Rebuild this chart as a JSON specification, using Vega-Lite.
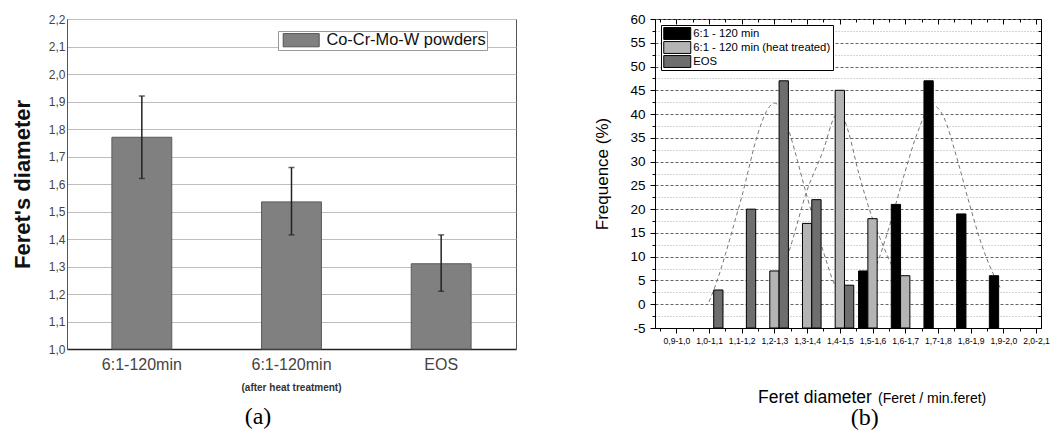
{
  "$schema": "https://vega.github.io/schema/vega-lite/v6.json",
  "background": "white",
  "padding": {"left": 10, "top": 11, "right": 0, "bottom": 0},
  "spacing": 76,
  "resolve": {"scale": {"fill": "independent"}, "legend": {"fill": "independent"}},
  "config": {
    "font": "Liberation Sans",
    "axis": {"labelFont": "Liberation Sans", "titleFont": "Liberation Sans"},
    "legend": {"labelFont": "Liberation Sans"}
  },
  "datasets": {
    "powders": [
      {"sample": "6:1-120min", "note": "", "mean": 1.77, "lo": 1.62, "hi": 1.92},
      {"sample": "6:1-120min (after heat treatment)", "note": "(after heat treatment)", "mean": 1.535, "lo": 1.415, "hi": 1.66},
      {"sample": "EOS", "note": "", "mean": 1.31, "lo": 1.21, "hi": 1.415}
    ],
    "freq": [
      {"k": 6, "bin": "1,5-1,6", "series": "6:1 - 120 min", "freq": 7},
      {"k": 7, "bin": "1,6-1,7", "series": "6:1 - 120 min", "freq": 21},
      {"k": 8, "bin": "1,7-1,8", "series": "6:1 - 120 min", "freq": 47},
      {"k": 9, "bin": "1,8-1,9", "series": "6:1 - 120 min", "freq": 19},
      {"k": 10, "bin": "1,9-2,0", "series": "6:1 - 120 min", "freq": 6},
      {"k": 3, "bin": "1,2-1,3", "series": "6:1 - 120 min (heat treated)", "freq": 7},
      {"k": 4, "bin": "1,3-1,4", "series": "6:1 - 120 min (heat treated)", "freq": 17},
      {"k": 5, "bin": "1,4-1,5", "series": "6:1 - 120 min (heat treated)", "freq": 45},
      {"k": 6, "bin": "1,5-1,6", "series": "6:1 - 120 min (heat treated)", "freq": 18},
      {"k": 7, "bin": "1,6-1,7", "series": "6:1 - 120 min (heat treated)", "freq": 6},
      {"k": 1, "bin": "1,0-1,1", "series": "EOS", "freq": 3},
      {"k": 2, "bin": "1,1-1,2", "series": "EOS", "freq": 20},
      {"k": 3, "bin": "1,2-1,3", "series": "EOS", "freq": 47},
      {"k": 4, "bin": "1,3-1,4", "series": "EOS", "freq": 22},
      {"k": 5, "bin": "1,4-1,5", "series": "EOS", "freq": 4}
    ],
    "fits": [
      {"fit": "EOS", "k": 1.0, "v": 0.5},
      {"fit": "EOS", "k": 1.25, "v": 5},
      {"fit": "EOS", "k": 1.5, "v": 10.5},
      {"fit": "EOS", "k": 1.75, "v": 16.5},
      {"fit": "EOS", "k": 2.0, "v": 22.6},
      {"fit": "EOS", "k": 2.5, "v": 36},
      {"fit": "EOS", "k": 2.75, "v": 40.5},
      {"fit": "EOS", "k": 3.0, "v": 42.3},
      {"fit": "EOS", "k": 3.25, "v": 40.5},
      {"fit": "EOS", "k": 3.5, "v": 35.2},
      {"fit": "EOS", "k": 4.0, "v": 22.6},
      {"fit": "EOS", "k": 4.5, "v": 11},
      {"fit": "EOS", "k": 4.85, "v": 4},
      {"fit": "EOS", "k": 5.05, "v": 2},
      {"fit": "heat", "k": 3.0, "v": 3},
      {"fit": "heat", "k": 3.44, "v": 11},
      {"fit": "heat", "k": 4.0, "v": 24},
      {"fit": "heat", "k": 4.5, "v": 32.5},
      {"fit": "heat", "k": 4.84, "v": 39.5},
      {"fit": "heat", "k": 5.0, "v": 40.5},
      {"fit": "heat", "k": 5.23, "v": 37},
      {"fit": "heat", "k": 5.58, "v": 27.5},
      {"fit": "heat", "k": 5.98, "v": 18.4},
      {"fit": "heat", "k": 6.38, "v": 11.4},
      {"fit": "heat", "k": 6.87, "v": 4.4},
      {"fit": "heat", "k": 7.0, "v": 3},
      {"fit": "black", "k": 5.75, "v": 3},
      {"fit": "black", "k": 6.18, "v": 9.3},
      {"fit": "black", "k": 6.48, "v": 15.6},
      {"fit": "black", "k": 6.98, "v": 27.5},
      {"fit": "black", "k": 7.37, "v": 36},
      {"fit": "black", "k": 7.82, "v": 41.9},
      {"fit": "black", "k": 8.17, "v": 39.5},
      {"fit": "black", "k": 8.57, "v": 31},
      {"fit": "black", "k": 8.96, "v": 21.2},
      {"fit": "black", "k": 9.36, "v": 12.1},
      {"fit": "black", "k": 9.81, "v": 4.7},
      {"fit": "black", "k": 9.9, "v": 3.5}
    ]
  },
  "hconcat": [
    {
      "width": 449,
      "height": 330,
      "view": {"stroke": "#555555", "strokeWidth": 1},
      "data": {"name": "powders"},
      "resolve": {"axis": {"y": "independent"}},
      "encoding": {
        "x": {
          "field": "sample", "type": "nominal", "sort": null,
          "scale": {"paddingInner": 0.6, "paddingOuter": 0.3},
          "axis": {
            "title": null, "labelAngle": 0, "ticks": false, "labelPadding": 7,
            "labelFontSize": 16, "labelColor": "#444444",
            "labelExpr": "split(datum.label, ' (')[0]",
            "domainColor": "#222222", "domainWidth": 1.5
          }
        }
      },
      "layer": [
        {
          "mark": {"type": "bar", "stroke": "#5a5a5a", "strokeWidth": 1},
          "encoding": {
            "y": {
              "field": "mean", "type": "quantitative",
              "scale": {"domain": [1, 2.2], "nice": false, "zero": false},
              "axis": {
                "orient": "left",
                "title": "Feret's diameter", "titleFontSize": 22, "titleFontWeight": "bold",
                "titleColor": "#111111", "titlePadding": 14,
                "tickCount": 24,
                "values": [1, 1.05, 1.1, 1.15, 1.2, 1.25, 1.3, 1.35, 1.4, 1.45, 1.5, 1.55, 1.6, 1.65, 1.7, 1.75, 1.8, 1.85, 1.9, 1.95, 2.0, 2.05, 2.1, 2.15, 2.2],
                "labelExpr": "(round(datum.value*100) % 10 === 0) ? replace(format(datum.value, '.1f'), '.', ',') : ''",
                "labelFontSize": 12, "labelColor": "#444444", "labelPadding": 2,
                "ticks": false, "labelOverlap": false, "labelFlush": false,
                "grid": true, "gridColor": "#bdbdbd", "gridWidth": 1,
                "domainColor": "#555555"
              }
            },
            "y2": {"datum": 1},
            "fill": {
              "datum": "Co-Cr-Mo-W powders", "type": "nominal",
              "scale": {"range": ["#808080"]},
              "legend": {
                "orient": "none", "legendX": 211, "legendY": 12, "title": null,
                "strokeColor": "#999999", "fillColor": "white", "padding": 1,
                "symbolType": "M-3,-1.1H3V1.1H-3Z", "symbolSize": 144, "symbolOffset": 14,
                "symbolStrokeColor": "#555555", "symbolStrokeWidth": 1,
                "labelFontSize": 16.4, "labelColor": "#111111", "labelOffset": 17, "labelLimit": 300
              }
            }
          }
        },
        {
          "mark": {"type": "rule", "color": "#222222", "strokeWidth": 1.5},
          "encoding": {
            "y": {"field": "lo", "type": "quantitative", "axis": null},
            "y2": {"field": "hi"}
          }
        },
        {
          "mark": {"type": "tick", "color": "#222222", "thickness": 1.5, "size": 6, "orient": "horizontal"},
          "encoding": {"y": {"field": "lo", "type": "quantitative", "axis": null}}
        },
        {
          "mark": {"type": "tick", "color": "#222222", "thickness": 1.5, "size": 6, "orient": "horizontal"},
          "encoding": {"y": {"field": "hi", "type": "quantitative", "axis": null}}
        },
        {
          "mark": {"type": "text", "fontWeight": "bold", "fontSize": 10, "baseline": "alphabetic", "dy": 42, "color": "#333333"},
          "encoding": {
            "y": {"datum": 1, "type": "quantitative", "axis": null},
            "text": {"field": "note"}
          }
        },
        {
          "data": {"values": [{}]},
          "mark": {"type": "text", "text": "(a)", "font": "Liberation Serif", "fontSize": 24, "baseline": "alphabetic", "dy": 75, "dx": -33.5, "color": "black"},
          "encoding": {
            "x": {"datum": "6:1-120min (after heat treatment)"},
            "y": {"datum": 1, "type": "quantitative", "axis": null}
          }
        }
      ]
    },
    {
      "width": 386,
      "height": 309,
      "view": {"stroke": "black", "strokeWidth": 1},
      "resolve": {"axis": {"x": "independent", "y": "independent"}},
      "layer": [
        {
          "data": {"name": "fits"},
          "mark": {"type": "line", "color": "#777777", "strokeWidth": 1, "strokeDash": [4, 3], "interpolate": "monotone"},
          "encoding": {
            "x": {
              "field": "k", "type": "quantitative",
              "scale": {"domain": [-0.5, 11], "nice": false, "zero": false},
              "axis": {
                "orient": "bottom", "title": null,
                "values": [-0.5, 0, 0.5, 1, 1.5, 2, 2.5, 3, 3.5, 4, 4.5, 5, 5.5, 6, 6.5, 7, 7.5, 8, 8.5, 9, 9.5, 10, 10.5, 11],
                "labelExpr": "datum.value % 1 === 0 ? ['0,9-1,0','1,0-1,1','1,1-1,2','1,2-1,3','1,3-1,4','1,4-1,5','1,5-1,6','1,6-1,7','1,7-1,8','1,8-1,9','1,9-2,0','2,0-2,1'][datum.value] : ''",
                "labelFontSize": 8.6, "labelColor": "black", "labelPadding": 3,
                "labelOverlap": false, "labelFlush": false, "labelBound": false,
                "tickSize": {"condition": {"test": "datum.value % 1 === 0", "value": 5}, "value": 3},
                "tickColor": "black", "domainColor": "black", "grid": false
              }
            },
            "y": {
              "field": "v", "type": "quantitative",
              "scale": {"domain": [-5, 60], "nice": false, "zero": false},
              "axis": {
                "orient": "left", "title": "Frequence (%)", "titleFontSize": 17, "titleFontWeight": "normal",
                "titleColor": "black", "titlePadding": 18,
                "values": [-5, -2.5, 0, 2.5, 5, 7.5, 10, 12.5, 15, 17.5, 20, 22.5, 25, 27.5, 30, 32.5, 35, 37.5, 40, 42.5, 45, 47.5, 50, 52.5, 55, 57.5, 60],
                "labelExpr": "datum.value % 5 === 0 ? '' + datum.value : ''",
                "labelFontSize": 13.5, "labelColor": "black", "labelPadding": 5,
                "labelOverlap": false, "labelFlush": false,
                "tickSize": {"condition": {"test": "datum.value % 5 === 0", "value": 5}, "value": 3},
                "tickColor": "black", "domainColor": "black",
                "grid": true,
                "gridColor": {"condition": {"test": "datum.value % 5 === 0", "value": "#666666"}, "value": "#aaaaaa"},
                "gridDash": {"condition": {"test": "datum.value % 5 === 0", "value": [3, 2]}, "value": [1, 2]},
                "gridWidth": 1
              }
            },
            "detail": {"field": "fit", "type": "nominal"}
          }
        },
        {
          "data": {"name": "freq"},
          "transform": [{"filter": "datum.series === '6:1 - 120 min'"}],
          "mark": {"type": "bar", "width": 9.3, "xOffset": -9.3, "stroke": "black", "strokeWidth": 1},
          "encoding": {
            "x": {
              "field": "k", "type": "quantitative",
              "scale": {"domain": [-0.5, 11], "nice": false, "zero": false},
              "axis": {
                "orient": "top", "title": null, "labels": false, "domain": false, "grid": false,
                "values": [-0.5, 0, 0.5, 1, 1.5, 2, 2.5, 3, 3.5, 4, 4.5, 5, 5.5, 6, 6.5, 7, 7.5, 8, 8.5, 9, 9.5, 10, 10.5, 11],
                "tickSize": {"condition": {"test": "datum.value % 1 === 0", "value": -5}, "value": -3},
                "tickColor": "black"
              }
            },
            "y": {
              "field": "freq", "type": "quantitative",
              "scale": {"domain": [-5, 60], "nice": false, "zero": false},
              "axis": {
                "orient": "right", "title": null, "labels": false, "domain": false, "grid": false,
                "values": [-5, -2.5, 0, 2.5, 5, 7.5, 10, 12.5, 15, 17.5, 20, 22.5, 25, 27.5, 30, 32.5, 35, 37.5, 40, 42.5, 45, 47.5, 50, 52.5, 55, 57.5, 60],
                "tickSize": {"condition": {"test": "datum.value % 5 === 0", "value": -5}, "value": -3},
                "tickColor": "black"
              }
            },
            "y2": {"datum": -5},
            "fill": {
              "field": "series", "type": "nominal",
              "scale": {"domain": ["6:1 - 120 min", "6:1 - 120 min (heat treated)", "EOS"], "range": ["#000000", "#b4b4b4", "#6e6e6e"]},
              "legend": {
                "orient": "none", "legendX": 6, "legendY": 6, "title": null,
                "strokeColor": "black", "fillColor": "white", "padding": 2, "rowPadding": 1,
                "clipHeight": 13,
                "symbolType": "M-2,-0.88H2V0.88H-2Z", "symbolSize": 182.25, "symbolOffset": 6.75,
                "symbolStrokeColor": "black", "symbolStrokeWidth": 1,
                "labelFontSize": 11.3, "labelColor": "black", "labelOffset": 8.5, "labelLimit": 300
              }
            }
          }
        },
        {
          "data": {"name": "freq"},
          "transform": [{"filter": "datum.series === '6:1 - 120 min (heat treated)'"}],
          "mark": {"type": "bar", "width": 9.3, "xOffset": 0, "stroke": "black", "strokeWidth": 1},
          "encoding": {
            "x": {"field": "k", "type": "quantitative", "axis": null},
            "y": {"field": "freq", "type": "quantitative", "axis": null},
            "y2": {"datum": -5},
            "fill": {"field": "series", "type": "nominal"}
          }
        },
        {
          "data": {"name": "freq"},
          "transform": [{"filter": "datum.series === 'EOS'"}],
          "mark": {"type": "bar", "width": 9.3, "xOffset": 9.3, "stroke": "black", "strokeWidth": 1},
          "encoding": {
            "x": {"field": "k", "type": "quantitative", "axis": null},
            "y": {"field": "freq", "type": "quantitative", "axis": null},
            "y2": {"datum": -5},
            "fill": {"field": "series", "type": "nominal"}
          }
        },
        {
          "data": {"values": [{}]},
          "mark": {"type": "text", "text": "Feret diameter", "fontSize": 17.5, "align": "left", "baseline": "alphabetic", "dy": 75, "color": "black"},
          "encoding": {
            "x": {"datum": 2.5, "type": "quantitative", "axis": null},
            "y": {"datum": -5, "type": "quantitative", "axis": null}
          }
        },
        {
          "data": {"values": [{}]},
          "mark": {"type": "text", "text": "(Feret / min.feret)", "fontSize": 14, "align": "left", "baseline": "alphabetic", "dy": 75, "dx": 120, "color": "black"},
          "encoding": {
            "x": {"datum": 2.5, "type": "quantitative", "axis": null},
            "y": {"datum": -5, "type": "quantitative", "axis": null}
          }
        },
        {
          "data": {"values": [{}]},
          "mark": {"type": "text", "text": "(b)", "font": "Liberation Serif", "fontSize": 24, "align": "center", "baseline": "alphabetic", "dy": 97, "color": "black"},
          "encoding": {
            "x": {"datum": 5.76, "type": "quantitative", "axis": null},
            "y": {"datum": -5, "type": "quantitative", "axis": null}
          }
        }
      ]
    }
  ]
}
